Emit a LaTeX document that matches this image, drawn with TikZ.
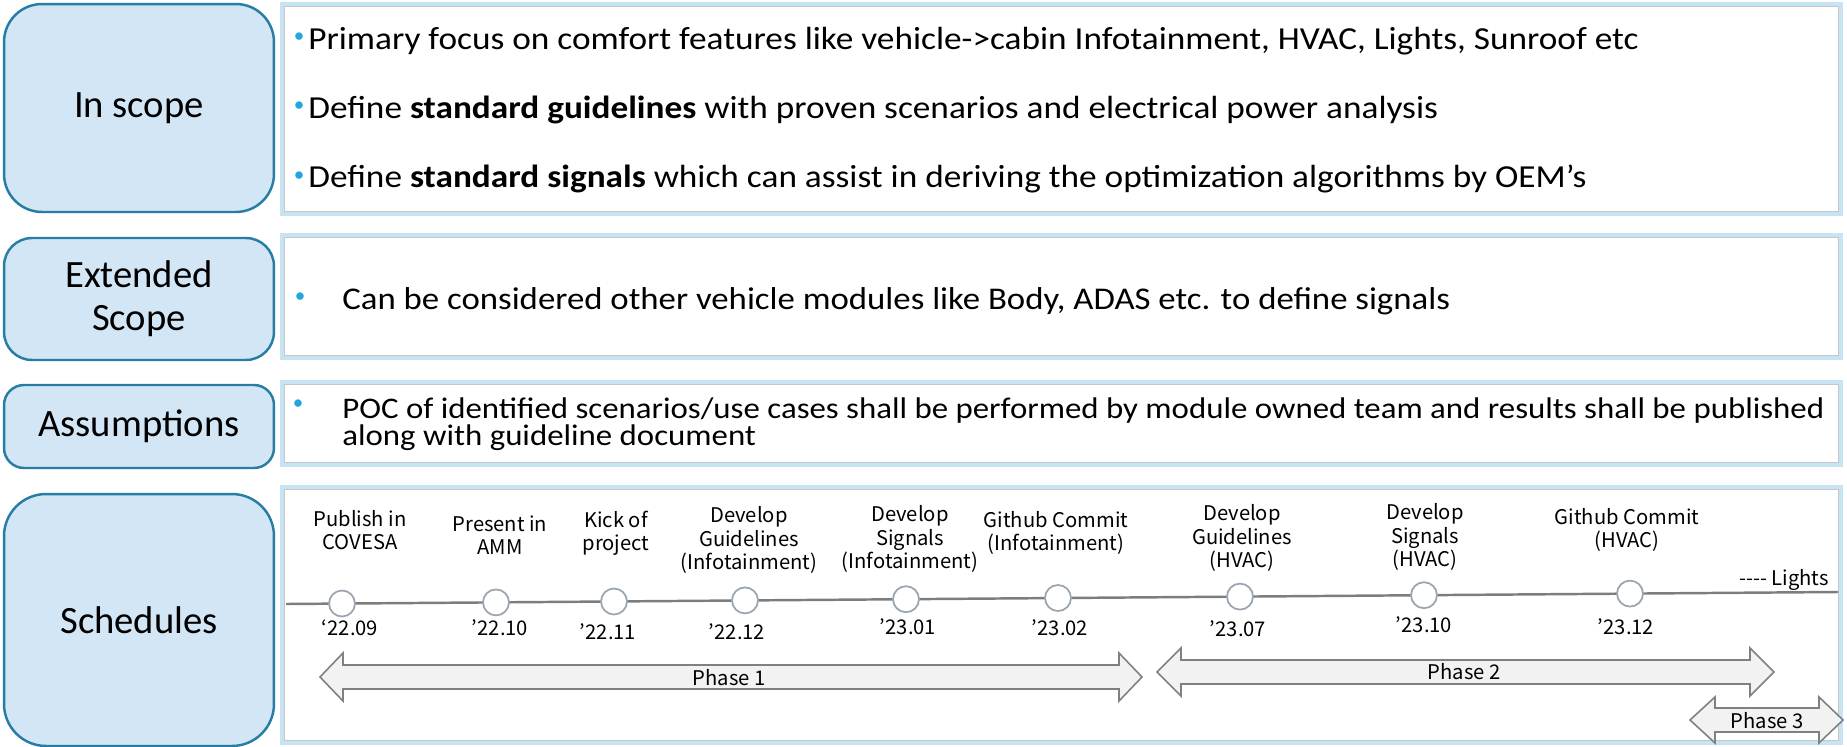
\documentclass[tikz,border=0pt]{standalone}
\usepackage{fontspec}
\setmainfont{Carlito}
\newfontfamily\widefont{Carlito}[FakeStretch=1.1]
\newfontfamily\tlfont{Noto Sans CJK KR}
\usetikzlibrary{positioning}

\definecolor{boxfill}{RGB}{210,230,245}
\definecolor{boxline}{RGB}{40,125,165}
\definecolor{panelline}{RGB}{198,228,243}
\definecolor{bulletblue}{RGB}{35,165,222}
\definecolor{ringgray}{RGB}{155,165,175}
\definecolor{linegray}{RGB}{125,125,125}
\definecolor{arrowgray}{RGB}{128,128,128}
\definecolor{arrowfill}{RGB}{242,242,242}

\tikzset{
  sidebox/.style={draw=boxline,fill=boxfill,line width=1.4pt,align=center,
    font=\fontsize{22}{24.5}\selectfont},
  panel/.style={draw=panelline,line width=2pt},
  paneledge/.style={draw=black!22,line width=0.4pt},
  dot/.style={text=bulletblue,font=\fontsize{12}{12}\selectfont,inner sep=0pt},
  item/.style={anchor=base west,inner sep=0pt,align=left,font=\widefont\fontsize{18}{14}\selectfont},
  milestone/.style={circle,draw=ringgray,fill=white,line width=1pt,
    minimum size=0.52cm,inner sep=0pt},
  event/.style={align=center,inner sep=0pt,font=\tlfont\fontsize{11.5}{13.3}\selectfont},
  phase/.style={draw=arrowgray,fill=arrowfill,line width=0.9pt,line join=miter},
}

\begin{document}
\begin{tikzpicture}[x=0.02cm,y=-0.02cm]
\useasboundingbox (0,0) rectangle (1847,747);

% side headings
\node[sidebox,rounded corners=0.76cm,minimum width=5.4cm,minimum height=4.16cm] (inscope) at (139,108) {In scope};
\node[sidebox,rounded corners=0.56cm,minimum width=5.4cm,minimum height=2.44cm] (extended) at (139,299) {Extended\\Scope};
\node[sidebox,rounded corners=0.4cm,minimum width=5.4cm,minimum height=1.66cm] (assume) at (139,426.5) {Assumptions};
\node[sidebox,rounded corners=0.84cm,minimum width=5.4cm,minimum height=5.04cm] (sched) at (139,620) {Schedules};

% frames on the right
\draw[panel] (282,4) rectangle (1841,214);
\draw[panel] (282,235) rectangle (1841,358);
\draw[panel] (282,382) rectangle (1841,465);
\draw[panel] (282,487) rectangle (1841,743);
\draw[paneledge] (284.5,6.5) rectangle (1838.5,211.5);
\draw[paneledge] (284.5,237.5) rectangle (1838.5,355.5);
\draw[paneledge] (284.5,384.5) rectangle (1838.5,462.5);
\draw[paneledge] (284.5,489.5) rectangle (1838.5,740.5);

% in scope items
\node[dot] (d1) at (299,38) {\textbullet};
\node[item,font=\widefont\fontsize{18.25}{14}\selectfont] (i1) at (308,50) {Primary focus on comfort features like vehicle->cabin Infotainment, HVAC, Lights, Sunroof etc};
\node[dot] (d2) at (299,107) {\textbullet};
\node[item,font=\widefont\fontsize{18.25}{14}\selectfont] (i2) at (308,118) {Define \textbf{standard guidelines} with proven scenarios and electrical power analysis};
\node[dot] (d3) at (299,177) {\textbullet};
\node[item,font=\widefont\fontsize{18.25}{14}\selectfont] (i3) at (308,187) {Define \textbf{standard signals} which can assist in deriving the optimization algorithms by OEM’s};

% extended scope and assumptions
\node[dot] (d4) at (300,298) {\textbullet};
\node[item] (i4) at (342,309) {Can be considered other vehicle modules like Body, ADAS etc. to define signals};
\node[dot] (d5) at (298,405) {\textbullet};
\node[item,anchor=west,font=\widefont\fontsize{17}{12.5}\selectfont] (i5) at (342,424) {POC of identified scenarios/use cases shall be performed by module owned team and results shall be published\\along with guideline document};

% timeline
\coordinate (t0) at (286,604);
\coordinate (t1) at (1838,592);
\draw[linegray,line width=1.4pt] (t0) -- (t1);

\node[milestone] (m1) at (342,603.5) {};
\node[milestone] (m2) at (496,602.4) {};
\node[milestone] (m3) at (614,601.5) {};
\node[milestone] (m4) at (745,600.4) {};
\node[milestone] (m5) at (906,599.2) {};
\node[milestone] (m6) at (1058,598) {};
\node[milestone] (m7) at (1240,596.6) {};
\node[milestone] (m8) at (1424,595.2) {};
\node[milestone] (m9) at (1630,593.6) {};

\node[event] (e1) at (360,530) {Publish in\\COVESA};
\node[event] (e2) at (500,535) {Present in\\AMM};
\node[event] (e3) at (616,533) {Kick of\\project};
\node[event] (e4) at (749,540) {Develop\\Guidelines\\(Infotainment)};
\node[event] (e5) at (910,539) {Develop\\Signals\\(Infotainment)};
\node[event] (e6) at (1056,533) {Github Commit\\(Infotainment)};
\node[event] (e7) at (1242,538) {Develop\\Guidelines\\(HVAC)};
\node[event] (e8) at (1425,537) {Develop\\Signals\\(HVAC)};
\node[event] (e9) at (1627,530) {Github Commit\\(HVAC)};
\node[event,anchor=east] (lights) at (1829,580) {---- Lights};

\node[event] (y1) at (350,628) {‘22.09};
\node[event] (y2) at (500,628) {’22.10};
\node[event] (y3) at (608,632) {’22.11};
\node[event] (y4) at (737,632) {’22.12};
\node[event] (y5) at (908,627) {’23.01};
\node[event] (y6) at (1060,628) {’23.02};
\node[event] (y7) at (1238,629) {’23.07};
\node[event] (y8) at (1424,625) {’23.10};
\node[event] (y9) at (1626,627) {’23.12};

% phases
\draw[phase] (320,677) -- (343,653) -- (343,665) -- (1119,665) -- (1119,653) -- (1142,677)
  -- (1119,701) -- (1119,689) -- (343,689) -- (343,701) -- cycle;
\draw[phase] (1157,672) -- (1181,648) -- (1181,660) -- (1750,660) -- (1750,648) -- (1774,672)
  -- (1750,696) -- (1750,684) -- (1181,684) -- (1181,696) -- cycle;
\draw[phase] (1690,720) -- (1715,697) -- (1715,708) -- (1819,708) -- (1819,697) -- (1843,720)
  -- (1819,743) -- (1819,732) -- (1715,732) -- (1715,743) -- cycle;
\node[event] (ph1) at (729,678) {Phase 1};
\node[event] (ph2) at (1464,672) {Phase 2};
\node[event] (ph3) at (1767,721) {Phase 3};
\end{tikzpicture}
\end{document}
